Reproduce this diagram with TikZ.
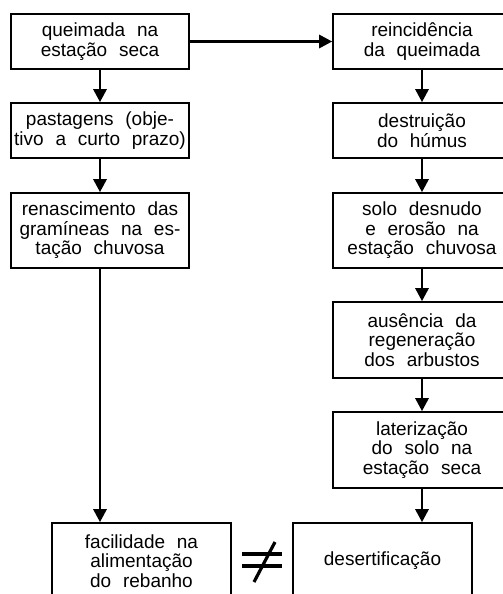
\documentclass[tikz,border=0pt]{standalone}
\usepackage{fontspec}
\setmainfont{Liberation Sans}
\usetikzlibrary{arrows.meta}
\newcommand{\flowboxfont}{\fontsize{19pt}{19.5pt}\selectfont\spaceskip=0.62em plus 0.1em\relax}
\begin{document}
\begin{tikzpicture}[x=1pt,y=-1pt,
  boxnode/.style={draw, line width=1.6pt, minimum width=178pt, inner sep=0pt, align=center,
    font=\flowboxfont},
  flowarrow/.style={line width=2.8pt, -{Triangle[length=13pt,width=13pt]}},
  signline/.style={line width=3.2pt}]
\useasboundingbox (0,0) rectangle (503,594);
% left column
\node[boxnode, minimum height=55pt] (L1) at (100,41.5) {queimada na\\estação seca};
\node[boxnode, minimum height=55pt] (L2) at (100,130.5) {pastagens (obje-\\tivo a curto prazo)};
\node[boxnode, minimum height=75pt] (L3) at (100,230.5) {renascimento das\\gramíneas na es-\\tação chuvosa};
% right column
\node[boxnode, minimum height=55pt] (R1) at (422,41.5) {reincidência\\da queimada};
\node[boxnode, minimum height=55pt] (R2) at (422,130.5) {destruição\\do húmus};
\node[boxnode, minimum height=75pt] (R3) at (422,230.5) {solo desnudo\\e erosão na\\estação chuvosa};
\node[boxnode, minimum height=76pt] (R4) at (422,340) {ausência da\\regeneração\\dos arbustos};
\node[boxnode, minimum height=76pt] (R5) at (422,450) {laterização\\do solo na\\estação seca};
% bottom
\node[boxnode, minimum height=76pt, minimum width=179pt] (B1) at (141.5,561) {facilidade na\\alimentação\\do rebanho};
\node[boxnode, minimum height=76pt, minimum width=179pt] (B2) at (382.5,561) {\raisebox{4pt}{desertificação}};
% arrows
\draw[flowarrow] (L1) -- (R1);
\draw[flowarrow] (L1) -- (L2);
\draw[flowarrow] (L2) -- (L3);
\draw[flowarrow] (L3.south) -- (L3.south |- B1.north);
\draw[flowarrow] (R1) -- (R2);
\draw[flowarrow] (R2) -- (R3);
\draw[flowarrow] (R3) -- (R4);
\draw[flowarrow] (R4) -- (R5);
\draw[flowarrow] (R5.south) -- (R5.south |- B2.north);
% not-equal sign
\draw[signline] (242,554) -- (282,554);
\draw[signline] (242,566) -- (282,566);
\draw[signline] (254,582) -- (275,542);
\end{tikzpicture}
\end{document}
